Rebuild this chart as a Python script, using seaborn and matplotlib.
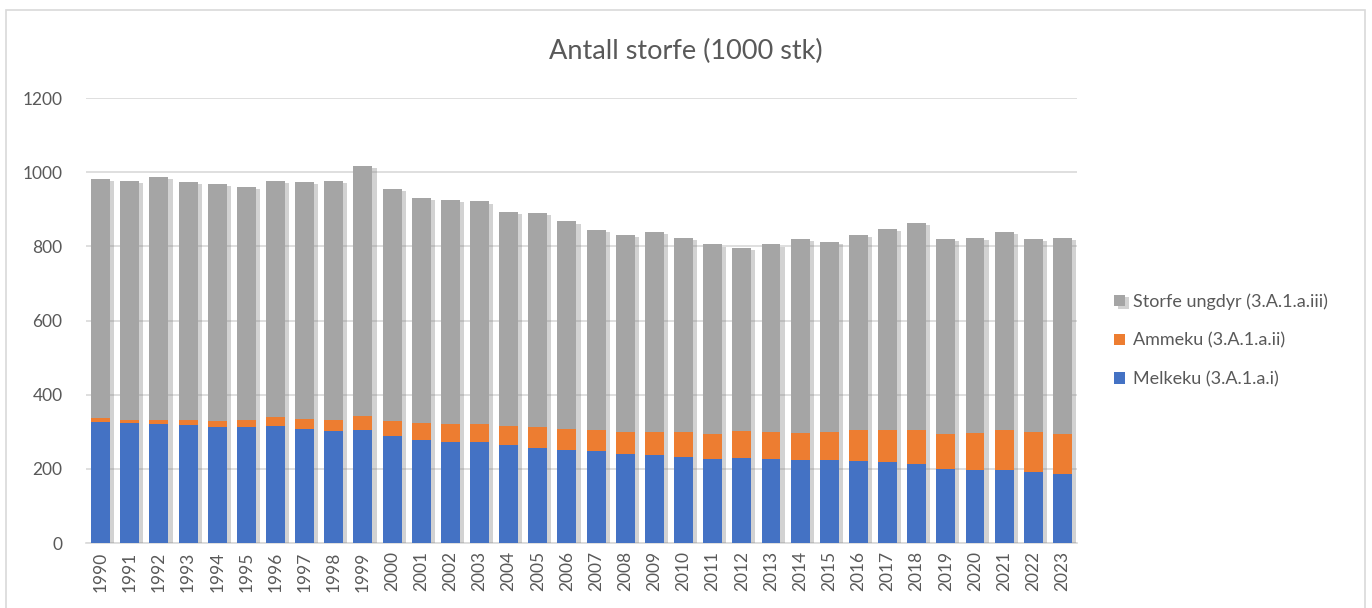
import seaborn as sns
import matplotlib.pyplot as plt
import matplotlib.patheffects as pe
from matplotlib.patches import Rectangle
import numpy as np
import pandas as pd

# Antall storfe (1000 stk), 1990-2023
years = [str(y) for y in range(1990, 2024)]

melkeku = [326, 324, 321, 317, 312, 312, 315, 308, 302, 306,
           288, 279, 272, 272, 263, 257, 252, 248, 240, 236,
           233, 227, 230, 227, 224, 224, 221, 218, 212, 200,
           197, 197, 191, 185]
ammeku = [10, 8, 11, 15, 17, 21, 24, 27, 31, 36,
          41, 44, 49, 49, 52, 55, 55, 57, 59, 63,
          66, 67, 72, 72, 73, 75, 84, 87, 93, 94,
          100, 108, 108, 109]
ungdyr = [646, 644, 656, 641, 638, 628, 637, 639, 643, 674,
          626, 607, 604, 600, 577, 577, 560, 539, 532, 539,
          524, 511, 494, 506, 523, 512, 526, 542, 557, 526,
          526, 533, 521, 529]

series_names = ["Storfe ungdyr (3.A.1.a.iii)", "Ammeku (3.A.1.a.ii)", "Melkeku (3.A.1.a.i)"]
colors = ["#A5A5A5", "#ED7D31", "#4472C4"]
text_col = "#595959"

df = pd.DataFrame({"År": years, "Melkeku": melkeku, "Ammeku": ammeku, "Ungdyr": ungdyr})
df["lvl1"] = df["Melkeku"]
df["lvl2"] = df["lvl1"] + df["Ammeku"]
df["lvl3"] = df["lvl2"] + df["Ungdyr"]

sns.set_style("white")
plt.rcParams["font.family"] = ["Lato", "DejaVu Sans"]

fig = plt.figure(figsize=(13.72, 6.08), dpi=100)
ax = fig.add_axes([0.0627, 0.1069, 0.7223, 0.7319])

# stacked bars: draw cumulative totals from the top layer down
for col, name, c in zip(["lvl3", "lvl2", "lvl1"], series_names, colors):
    sns.barplot(data=df, x="År", y=col, color=c, width=0.65, label=name,
                saturation=1, linewidth=0, ax=ax, zorder=3)

# soft shadow on the right of every full bar (Excel style)
shadow = [pe.SimplePatchShadow(offset=(3, -1.5), shadow_rgbFace="#7F7F7F", alpha=0.35),
          pe.Normal()]
for i, p in enumerate(ax.patches):
    if i < len(years):
        p.set_path_effects(shadow)

ax.set_ylim(0, 1200)
ax.set_xlim(-0.5, len(years) - 0.5)
ax.set_yticks(np.arange(0, 1201, 200))
ax.yaxis.grid(True, color="#D9D9D9", linewidth=1.2, zorder=0)
ax.set_axisbelow(True)
for s in ["top", "right", "left"]:
    ax.spines[s].set_visible(False)
ax.spines["bottom"].set_color("#D9D9D9")
ax.spines["bottom"].set_linewidth(1.2)
ax.tick_params(axis="both", length=0, colors=text_col, labelsize=12.5)
ax.tick_params(axis="y", pad=17)
ax.tick_params(axis="x", pad=6)
plt.setp(ax.get_xticklabels(), rotation=90)
ax.set_xlabel("")
ax.set_ylabel("")

fig.text(0.5, 0.915, "Antall storfe (1000 stk)", ha="center", va="center",
         fontsize=19.5, color=text_col)

handles, labels = ax.get_legend_handles_labels()
if ax.get_legend() is not None:
    ax.get_legend().remove()
fig.legend(handles, labels, loc="center left", bbox_to_anchor=(0.8, 0.44),
           frameon=False, fontsize=13, labelcolor=text_col,
           handlelength=0.6, handleheight=0.6, handletextpad=0.45, labelspacing=1.25)

# outer chart border
fig.patches.append(Rectangle((6 / 1372, -0.02), 1359 / 1372, 1 - 10 / 608 + 0.02,
                             transform=fig.transFigure, fill=False,
                             edgecolor="#D9D9D9", linewidth=1.2))

fig.savefig("out.png", dpi=100)
plt.close(fig)
